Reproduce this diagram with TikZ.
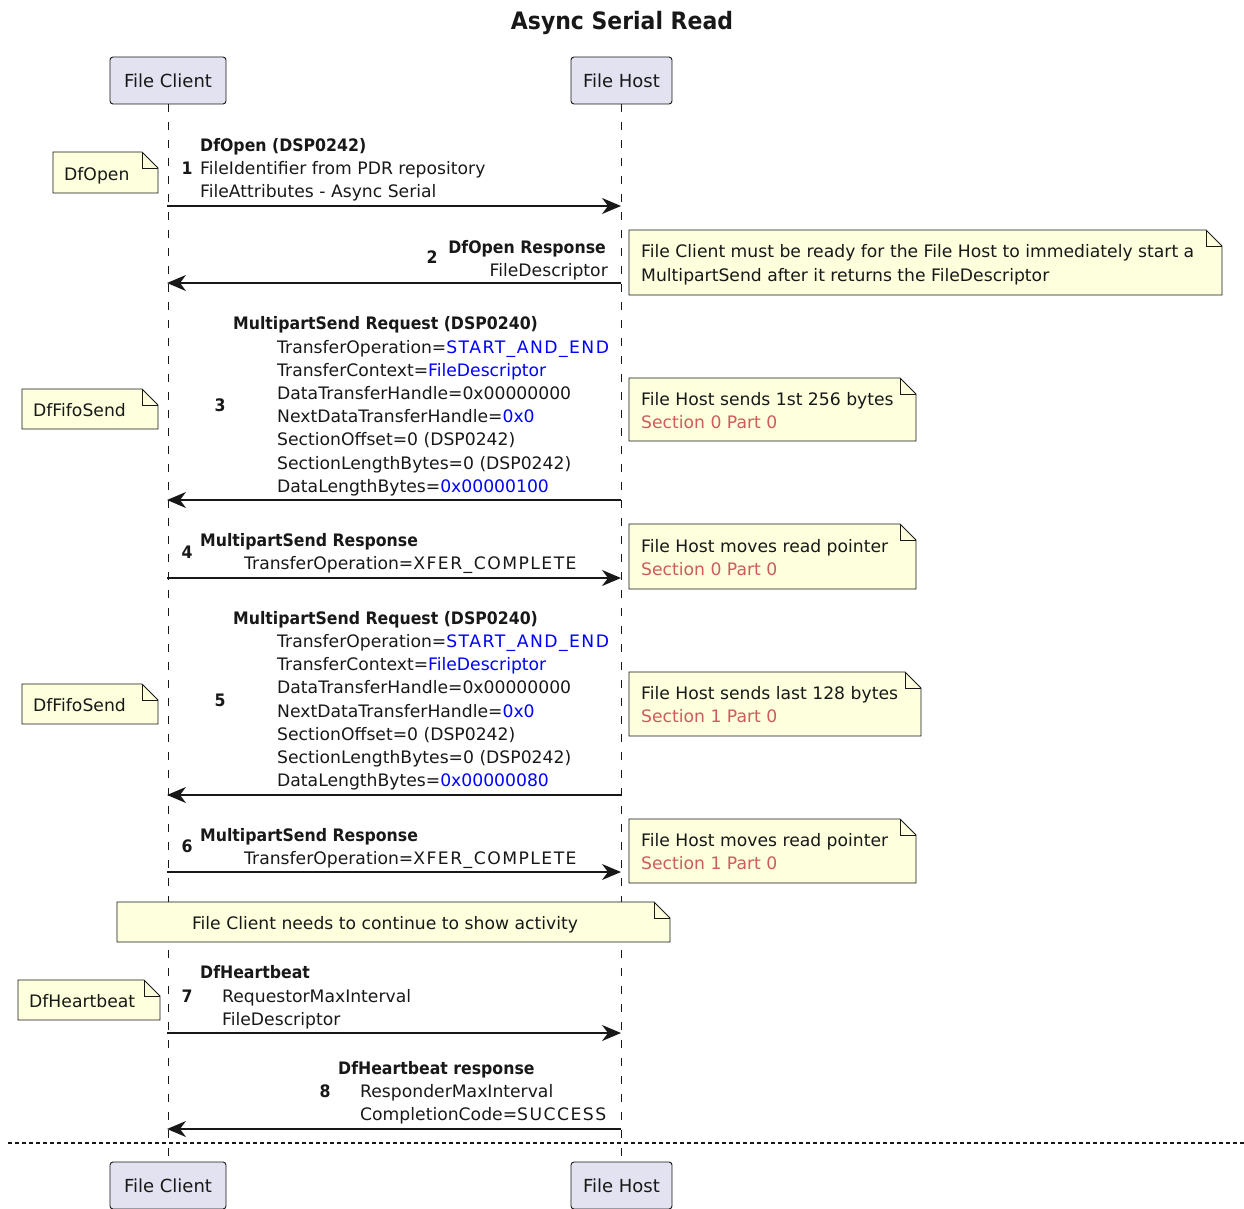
\documentclass[tikz,border=0pt]{standalone}
\usepackage{fontspec}
\setmainfont{DejaVu Sans}
\newfontfamily\condbf{DejaVu Sans}[FakeStretch=0.915]
\newfontfamily\spaced{DejaVu Sans}[LetterSpace=8.5]
\usetikzlibrary{arrows.meta}
\definecolor{partfill}{HTML}{E2E2F0}
\definecolor{notefill}{HTML}{FEFFDD}
\definecolor{ink}{HTML}{181818}
\definecolor{hlblue}{HTML}{0000FF}
\definecolor{secred}{HTML}{CD5C5C}
\newcommand\bt[1]{{\condbf\bfseries #1}}
\newcommand\hl[1]{\textcolor{hlblue}{#1}}
\newcommand\up[1]{{\spaced #1}}
% folded-corner note outline: x1, y1, x2, y2
\newcommand\notepoly[4]{%
  \draw[notebox] (#1,#2) -- ({#3-16},#2) -- (#3,{#2+16}) -- (#3,#4) -- (#1,#4) -- cycle;
  \draw[ink, line width=0.8pt] ({#3-16},#2) -- ({#3-16},{#2+16}) -- (#3,{#2+16});}
\begin{document}
\begin{tikzpicture}[x=1pt, y=-1pt,
  every node/.style={font=\fontsize{17.2}{20}\selectfont, text=ink},
  part/.style={draw=ink, fill=partfill, line width=0.9pt, rounded corners=3pt,
    minimum height=47pt, inner sep=0pt, font=\fontsize{18}{21}\selectfont,
    text height=15.5pt, text depth=2pt},
  notebox/.style={draw=ink, fill=notefill, line width=0.8pt},
  lbl/.style={inner sep=0pt, anchor=west, text height=15pt, text depth=2pt},
  lble/.style={lbl, anchor=east},
  num/.style={inner sep=0pt, anchor=center, text height=15pt, text depth=2pt},
  life/.style={draw=ink, line width=0.8pt, dash pattern=on 8pt off 10pt},
  msg/.style={draw=ink, line width=1.4pt, -{Stealth[length=19pt, width=16pt, inset=6pt]}},
  sec/.style={text=secred}]
\useasboundingbox (0,0) rectangle (1244,1209);

% title
\node[inner sep=0pt, font=\fontsize{24}{28}\selectfont] (title) at (622,23) {\bt{Async Serial Read}};

% participants
\node[part, minimum width=116pt] (fcT) at (168,80.5) {File Client};
\node[part, minimum width=101pt] (fhT) at (621.5,80.5) {File Host};
\node[part, minimum width=116pt] (fcB) at (168,1185.5) {File Client};
\node[part, minimum width=101pt] (fhB) at (621.5,1185.5) {File Host};

% lifelines
\draw[life] (fcT.south) -- (fcB.north);
\draw[life] (fhT.south) -- (fhB.north);

% separator
\coordinate (sepL) at (8,1143);
\coordinate (sepR) at (1244,1143);
\draw[ink, line width=1.2pt, dash pattern=on 4pt off 3pt] (sepL) -- (sepR);

% message end points on the lifelines
\foreach \i/\y in {1/206, 2/283, 3/500, 4/578, 5/795, 6/872, 7/1033, 8/1129}{
  \coordinate (c\i) at (167,\y);
  \coordinate (h\i) at (621,\y);
}

% 1: DfOpen
\notepoly{53}{152}{158}{193}
\node[lbl] (n1) at (64,174) {DfOpen};
\draw[msg] (c1) -- (h1);
\node[lbl] (m1a) at (200,145) {\bt{DfOpen (DSP0242)}};
\node[num] (k1) at (187,168) {\bt{1}};
\node[lbl] (m1b) at (200,168) {FileIdentifier from PDR repository};
\node[lbl] (m1c) at (200,191) {FileAttributes - Async Serial};

% 2: DfOpen response
\draw[msg] (h2) -- (c2);
\node[num] (k2) at (432,257) {\bt{2}};
\node[lble] (m2a) at (606,247) {\bt{DfOpen Response}};
\node[lble] (m2b) at (608,270) {FileDescriptor};
\notepoly{629}{230}{1222}{295}
\node[lbl] (n2a) at (641,251) {File Client must be ready for the File Host to immediately start a};
\node[lbl] (n2b) at (641,275) {MultipartSend after it returns the FileDescriptor};

% 3: first MultipartSend request
\notepoly{22}{389}{158}{429}
\node[lbl] (n3) at (33,410) {DfFifoSend};
\draw[msg] (h3) -- (c3);
\node[num] (k3) at (220,405) {\bt{3}};
\node[lbl] (m3a) at (233,323) {\bt{MultipartSend Request (DSP0240)}};
\node[lbl] (m3b) at (277,347) {TransferOperation=\hl{\up{START\_AND\_END}}};
\node[lbl] (m3c) at (277,370) {TransferContext=\hl{FileDescriptor}};
\node[lbl] (m3d) at (277,393) {DataTransferHandle=0x00000000};
\node[lbl] (m3e) at (277,416) {NextDataTransferHandle=\hl{0x0}};
\node[lbl] (m3f) at (277,439) {SectionOffset=0 (DSP0242)};
\node[lbl] (m3g) at (277,463) {SectionLengthBytes=0 (DSP0242)};
\node[lbl] (m3h) at (277,486) {DataLengthBytes=\hl{0x00000100}};
\notepoly{629}{378}{916}{441}
\node[lbl] (n3a) at (641,399) {File Host sends 1st 256 bytes};
\node[lbl, sec] (n3b) at (641,422) {Section 0 Part 0};

% 4: first MultipartSend response
\draw[msg] (c4) -- (h4);
\node[num] (k4) at (187,552) {\bt{4}};
\node[lbl] (m4a) at (200,540) {\bt{MultipartSend Response}};
\node[lbl] (m4b) at (244,563) {TransferOperation=\up{XFER\_COMPLETE}};
\notepoly{629}{524}{916}{589}
\node[lbl] (n4a) at (641,546) {File Host moves read pointer};
\node[lbl, sec] (n4b) at (641,569) {Section 0 Part 0};

% 5: second MultipartSend request
\notepoly{22}{684}{158}{724}
\node[lbl] (n5) at (33,705) {DfFifoSend};
\draw[msg] (h5) -- (c5);
\node[num] (k5) at (220,700) {\bt{5}};
\node[lbl] (m5a) at (233,618) {\bt{MultipartSend Request (DSP0240)}};
\node[lbl] (m5b) at (277,641) {TransferOperation=\hl{\up{START\_AND\_END}}};
\node[lbl] (m5c) at (277,664) {TransferContext=\hl{FileDescriptor}};
\node[lbl] (m5d) at (277,687) {DataTransferHandle=0x00000000};
\node[lbl] (m5e) at (277,711) {NextDataTransferHandle=\hl{0x0}};
\node[lbl] (m5f) at (277,734) {SectionOffset=0 (DSP0242)};
\node[lbl] (m5g) at (277,757) {SectionLengthBytes=0 (DSP0242)};
\node[lbl] (m5h) at (277,780) {DataLengthBytes=\hl{0x00000080}};
\notepoly{629}{672}{921}{736}
\node[lbl] (n5a) at (641,693) {File Host sends last 128 bytes};
\node[lbl, sec] (n5b) at (641,716) {Section 1 Part 0};

% 6: second MultipartSend response
\draw[msg] (c6) -- (h6);
\node[num] (k6) at (187,846) {\bt{6}};
\node[lbl] (m6a) at (200,835) {\bt{MultipartSend Response}};
\node[lbl] (m6b) at (244,858) {TransferOperation=\up{XFER\_COMPLETE}};
\notepoly{629}{819}{916}{883}
\node[lbl] (n6a) at (641,840) {File Host moves read pointer};
\node[lbl, sec] (n6b) at (641,863) {Section 1 Part 0};

% note across both lifelines
\notepoly{117}{902}{670}{942}
\node[num] (nx) at (385,923) {File Client needs to continue to show activity};

% 7: DfHeartbeat
\notepoly{18}{980}{160}{1020}
\node[lbl] (n7) at (29,1001) {DfHeartbeat};
\draw[msg] (c7) -- (h7);
\node[lbl] (m7a) at (200,972) {\bt{DfHeartbeat}};
\node[num] (k7) at (187,996) {\bt{7}};
\node[lbl] (m7b) at (222,996) {RequestorMaxInterval};
\node[lbl] (m7c) at (222,1019) {FileDescriptor};

% 8: DfHeartbeat response
\draw[msg] (h8) -- (c8);
\node[lbl] (m8a) at (338,1068) {\bt{DfHeartbeat response}};
\node[num] (k8) at (325,1091) {\bt{8}};
\node[lbl] (m8b) at (360,1091) {ResponderMaxInterval};
\node[lbl] (m8c) at (360,1114) {CompletionCode=\up{SUCCESS}};
\end{tikzpicture}
\end{document}
